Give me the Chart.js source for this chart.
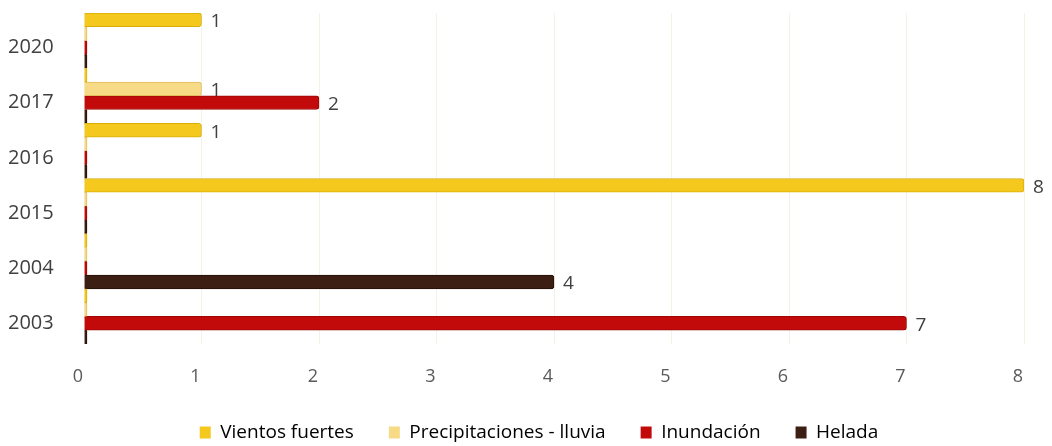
<!DOCTYPE html>
<html lang="es">
<head>
<meta charset="utf-8">
<title>Eventos climáticos por año</title>
<script src="https://cdn.jsdelivr.net/npm/chart.js@4.4.1/dist/chart.umd.min.js"></script>
<style>
  html, body { margin: 0; padding: 0; background: #ffffff; }
  #wrap { position: relative; width: 1052px; height: 446px; }
</style>
</head>
<body>
<div id="wrap"><canvas id="chart"></canvas></div>
<script>
// Years, listed top to bottom as they appear on the axis
const years = ['2020', '2017', '2016', '2015', '2004', '2003'];

// Number of events per year for each type
const vientosFuertes   = [1, 0, 1, 8, 0, 0];
const precipitaciones  = [0, 1, 0, 0, 0, 0];
const inundacion       = [0, 2, 0, 0, 0, 7];
const helada           = [0, 0, 0, 0, 4, 0];

const seriesNames = ['Vientos fuertes', 'Precipitaciones - lluvia', 'Inundación', 'Helada'];
const xTicks = [0, 1, 2, 3, 4, 5, 6, 7, 8];

const FONT = '"Open Sans", "Liberation Sans", sans-serif';

// Writes each non-zero value just past the end of its bar
const valueLabels = {
  id: 'valueLabels',
  afterDatasetsDraw(chart) {
    const ctx = chart.ctx;
    ctx.save();
    ctx.font = '19px ' + FONT;
    ctx.fillStyle = '#404040';
    ctx.textAlign = 'left';
    ctx.textBaseline = 'middle';
    chart.data.datasets.forEach((ds, i) => {
      const meta = chart.getDatasetMeta(i);
      meta.data.forEach((bar, j) => {
        const v = ds.data[j];
        if (v > 0) ctx.fillText(String(v), bar.x + 9, bar.y + 2);
      });
    });
    ctx.restore();
  }
};

// Nudges the legend row a little to the left of the plot centre
const legendShift = {
  id: 'legendShift',
  beforeDraw(chart) {
    const lg = chart.legend;
    if (lg && !lg._shifted) {
      lg.left -= 15;
      lg.right -= 15;
      lg._shifted = true;
    }
  },
  afterUpdate(chart) {
    if (chart.legend) chart.legend._shifted = false;
  }
};

const makeSet = (label, data, fill, edge) => ({
  label,
  data,
  backgroundColor: fill,
  borderColor: edge,
  borderWidth: 1,
  borderSkipped: 'start',
  borderRadius: 3,
  minBarLength: 3,
  categoryPercentage: 1.0,
  barPercentage: 1.0
});

new Chart(document.getElementById('chart'), {
  type: 'bar',
  data: {
    labels: years,
    datasets: [
      makeSet(seriesNames[0], vientosFuertes,  '#F4C81C', '#D9AE0A'),
      makeSet(seriesNames[1], precipitaciones, '#F7DA86', '#E2BE5A'),
      makeSet(seriesNames[2], inundacion,      '#C20A0A', '#9E0606'),
      makeSet(seriesNames[3], helada,          '#3C1E12', '#22100A')
    ]
  },
  options: {
    indexAxis: 'y',
    responsive: true,
    maintainAspectRatio: false,
    animation: false,
    layout: { padding: { top: 13, left: 8, right: 28, bottom: -6 } },
    scales: {
      x: {
        min: 0,
        max: 8,
        afterBuildTicks(axis) { axis.ticks = xTicks.map(v => ({ value: v })); },
        afterFit(axis) { axis.height = 44; },
        grid: { color: '#f4f2e6', drawTicks: false, lineWidth: 1 },
        border: { display: false },
        ticks: {
          padding: 22,
          labelOffset: -6,
          color: '#595959',
          font: { family: FONT, size: 18 }
        }
      },
      y: {
        grid: { display: false, drawTicks: false },
        border: { display: false },
        afterFit(axis) { axis.width = 76; },
        ticks: {
          padding: 0,
          crossAlign: 'far',
          labelOffset: 7,
          color: '#404040',
          font: { family: FONT, size: 20 }
        }
      }
    },
    plugins: {
      legend: {
        position: 'bottom',
        fullSize: false,
        labels: {
          boxWidth: 11,
          boxHeight: 12,
          padding: 35,
          color: '#404040',
          font: { family: FONT, size: 19 },
          generateLabels(chart) {
            return chart.data.datasets.map((ds, i) => ({
              text: ds.label,
              fillStyle: ds.backgroundColor,
              strokeStyle: ds.backgroundColor,
              lineWidth: 0,
              datasetIndex: i,
              hidden: false
            }));
          }
        }
      },
      tooltip: { enabled: false }
    }
  },
  plugins: [valueLabels, legendShift]
});
</script>
</body>
</html>
